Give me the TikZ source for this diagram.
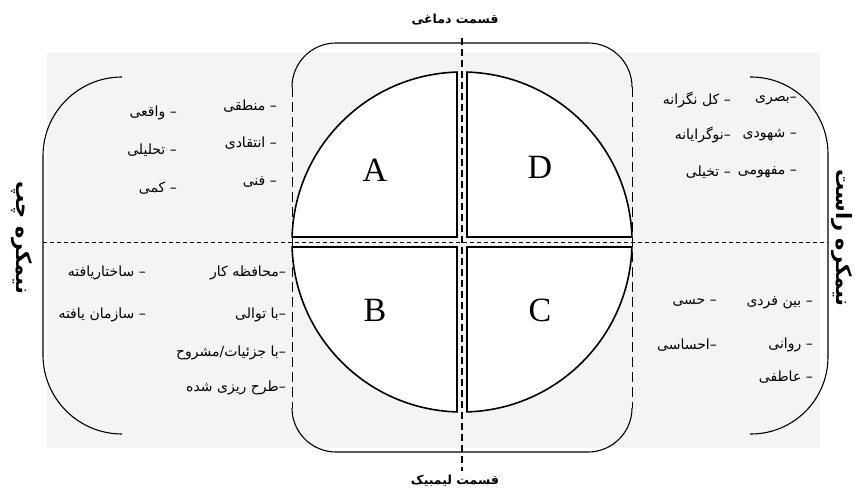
\documentclass[tikz,border=0pt]{standalone}
\usepackage{fontspec}
\setmainfont{Liberation Serif}
\newfontfamily\arabicfont[Script=Arabic]{DejaVu Sans}
\TeXXeTstate=1
\usetikzlibrary{calc}
\newcommand\pers[1]{\beginR#1\endR}
\definecolor{bggray}{HTML}{F4F4F4}
\begin{document}
\begin{tikzpicture}[x=1pt,y=1pt,
  outline/.style={line width=1.1pt},
  quad/.style={fill=white,draw=black,line width=1.6pt,line join=miter},
  sidedash/.style={line width=1pt,dash pattern=on 10pt off 5pt},
  middash/.style={line width=1.3pt,dash pattern=on 7pt off 4pt},
  hdash/.style={line width=0.8pt,dash pattern=on 4pt off 3pt},
  lbl/.style={anchor=east,inner sep=0pt,font=\arabicfont\fontsize{14}{16}\selectfont},
  title/.style={inner sep=0pt,font=\arabicfont\bfseries\fontsize{12.5}{14}\selectfont},
  side/.style={inner sep=0pt,rotate=-90,font=\arabicfont\bfseries\fontsize{21}{23}\selectfont},
  letter/.style={inner sep=0pt,font=\fontsize{34}{34}\selectfont}]
\useasboundingbox (0,0) rectangle (855,496);
\fill[bggray] (47,48) rectangle (820,443);
% brackets
\draw[outline,rounded corners=79pt] (122,419) -- (43,419) -- (43,62) -- (122,62);
\draw[outline,rounded corners=77pt] (750,419) -- (828,419) -- (828,62) -- (750,62);
% centre frame
\coordinate (tl) at (292,409);
\coordinate (tr) at (632,409);
\coordinate (bl) at (292,88);
\coordinate (br) at (632,88);
\draw[outline,rounded corners=44pt] (tl) -- (292,453) -- (632,453) -- (tr);
\draw[outline,rounded corners=44pt] (bl) -- (292,44) -- (632,44) -- (br);
\draw[sidedash] (tl) -- (bl);
\draw[sidedash] (tr) -- (br);
% quadrants
\coordinate (c) at (462,254);
\filldraw[quad] (467,259) -- ($(c)+(1.685:170)$) arc[start angle=1.685,end angle=88.315,radius=170] -- cycle;
\filldraw[quad] (457,259) -- ($(c)+(91.685:170)$) arc[start angle=91.685,end angle=178.315,radius=170] -- cycle;
\filldraw[quad] (457,249) -- ($(c)+(181.685:170)$) arc[start angle=181.685,end angle=268.315,radius=170] -- cycle;
\filldraw[quad] (467,249) -- ($(c)+(271.685:170)$) arc[start angle=271.685,end angle=358.315,radius=170] -- cycle;
% axes
\coordinate (vtop) at (462,458);
\coordinate (vbot) at (462,25);
\coordinate (hl) at (43,254);
\coordinate (hr) at (828,254);
\draw[middash] (vtop) -- (vbot);
\draw[hdash] (hl) -- (hr);
% letters
\node[letter] (A) at (375,326) {A};
\node[letter] (D) at (540,329) {D};
\node[letter] (B) at (375,186) {B};
\node[letter] (C) at (540,186) {C};
% titles
\node[title] (top) at (455,476) {\pers{قسمت دماغی}};
\node[title] (bot) at (455,15) {\pers{قسمت لیمبیک}};
\node[side] (left) at (22,258) {\pers{نیمکره چپ}};
\node[side] (right) at (842,258) {\pers{نیمکره راست}};
% left top
\node[lbl] (a1) at (277,390) {\pers{– منطقی}};
\node[lbl] (a2) at (277,353) {\pers{– انتقادی}};
\node[lbl] (a3) at (277,314) {\pers{– فنی}};
\node[lbl] (a4) at (177,383) {\pers{– واقعی}};
\node[lbl] (a5) at (177,346) {\pers{– تحلیلی}};
\node[lbl] (a6) at (177,308) {\pers{– کمی}};
% left bottom
\node[lbl] (b1) at (286,223) {\pers{–محافظه کار}};
\node[lbl] (b2) at (286,181) {\pers{–با توالی}};
\node[lbl] (b3) at (286,143) {\pers{–با جزئیات/مشروح}};
\node[lbl] (b4) at (286,108) {\pers{–طرح ریزی شده}};
\node[lbl] (b5) at (146,223) {\pers{– ساختاریافته}};
\node[lbl] (b6) at (146,181) {\pers{– سازمان یافته}};
% right top
\node[lbl] (d1) at (797,396) {\pers{–بصری}};
\node[lbl] (d2) at (797,361) {\pers{– شهودی}};
\node[lbl] (d3) at (797,324) {\pers{– مفهومی}};
\node[lbl] (d4) at (731,396) {\pers{– کل نگرانه}};
\node[lbl] (d5) at (731,361) {\pers{–نوگرایانه}};
\node[lbl] (d6) at (731,324) {\pers{– تخیلی}};
% right bottom
\node[lbl] (c1) at (813,193) {\pers{– بین فردی}};
\node[lbl] (c2) at (813,151) {\pers{– روانی}};
\node[lbl] (c3) at (813,119) {\pers{– عاطفی}};
\node[lbl] (c4) at (717,193) {\pers{– حسی}};
\node[lbl] (c5) at (717,151) {\pers{–احساسی}};
\end{tikzpicture}
\end{document}
